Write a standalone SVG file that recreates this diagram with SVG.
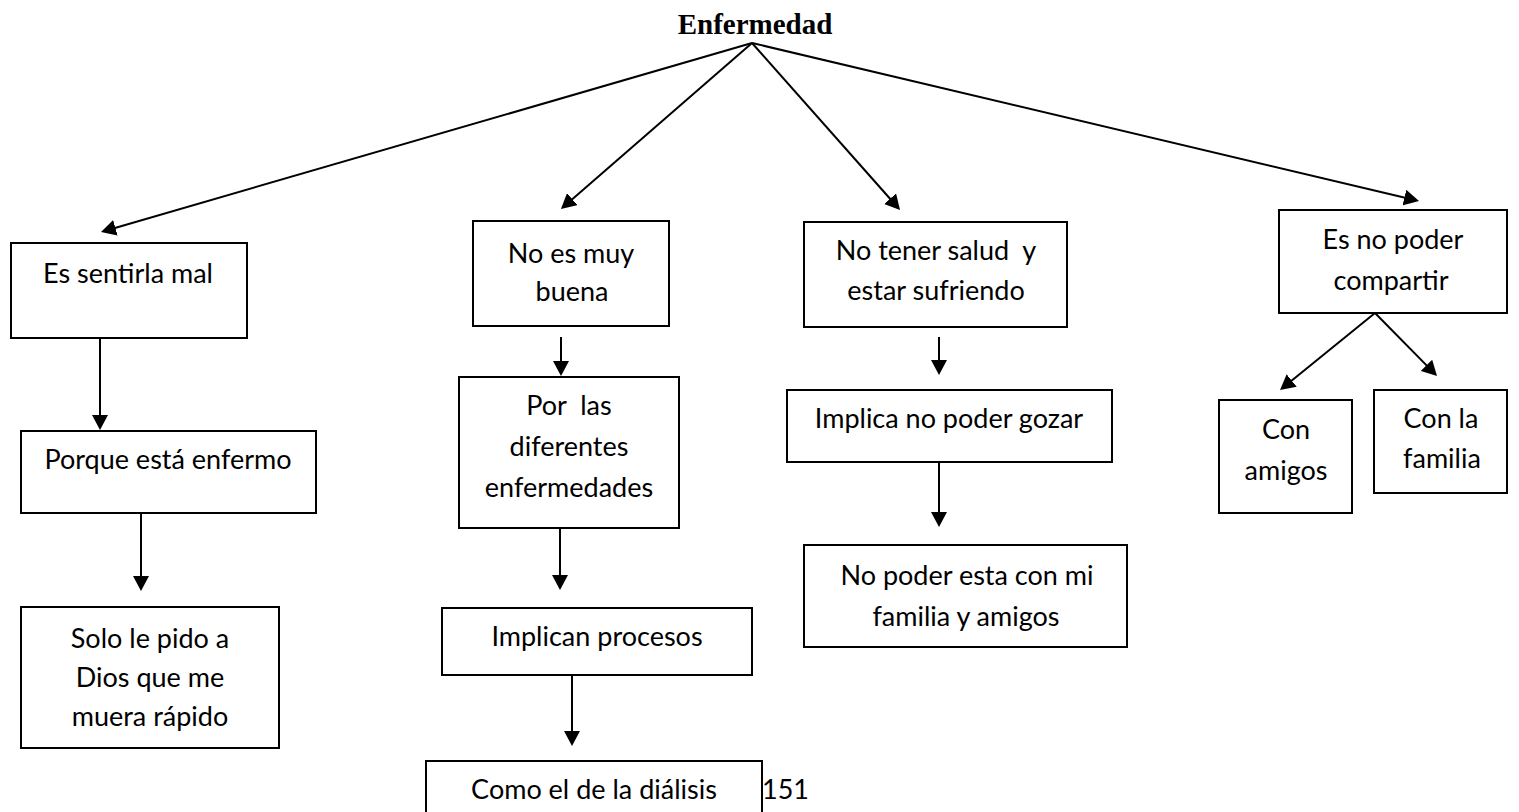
<svg xmlns="http://www.w3.org/2000/svg" width="1519" height="812" viewBox="0 0 1519 812">
<style>
.box{fill:#fff;stroke:#000;stroke-width:2}
.t{font-family:Lato,"Open Sans","Liberation Sans",sans-serif;font-size:27px;fill:#000;text-anchor:middle}
.title{font-family:"Liberation Serif","Times New Roman",serif;font-size:29px;font-weight:bold;fill:#000;text-anchor:middle}
.c line{stroke:#000;stroke-width:2;marker-end:url(#ah)}
</style>
<defs>
<marker id="ah" markerUnits="userSpaceOnUse" markerWidth="16" markerHeight="16" refX="5" refY="8" orient="auto">
<path d="M0,0 L15,8 L0,16 z" fill="#000"/>
</marker>
</defs>
<rect width="1519" height="812" fill="#fff"/>
<g id="title"><text class="title" x="755" y="34">Enfermedad</text></g>
<g class="c" id="connectors">
<line x1="752" y1="43" x2="110.6" y2="229.2"/>
<line x1="752" y1="43" x2="568.5" y2="202.4"/>
<line x1="752" y1="43" x2="893.4" y2="202.5"/>
<line x1="752" y1="43" x2="1409.3" y2="198.7"/>
<line x1="100" y1="338" x2="100" y2="420"/>
<line x1="141" y1="513" x2="141" y2="581"/>
<line x1="561" y1="337" x2="561" y2="366"/>
<line x1="560" y1="528" x2="560" y2="580"/>
<line x1="572" y1="675" x2="572" y2="736"/>
<line x1="939" y1="337" x2="939" y2="365"/>
<line x1="939" y1="462" x2="939" y2="517"/>
<line x1="1375" y1="313" x2="1287.8" y2="383.7"/>
<line x1="1375" y1="313" x2="1430" y2="368.9"/>
</g>
<g id="n1"><rect class="box" x="11" y="243" width="236" height="95"/><text class="t" x="128" y="283">Es sentirla mal</text></g>
<g id="n1a"><rect class="box" x="21" y="431" width="295" height="82"/><text class="t" x="168" y="469">Porque está enfermo</text></g>
<g id="n1b"><rect class="box" x="21" y="607" width="258" height="141"/><text class="t" x="150" y="648">Solo le pido a</text><text class="t" x="150" y="687">Dios que me</text><text class="t" x="150" y="726">muera rápido</text></g>
<g id="n2"><rect class="box" x="473" y="221" width="196" height="105"/><text class="t" x="571" y="263">No es muy</text><text class="t" x="572" y="301">buena</text></g>
<g id="n2a"><rect class="box" x="459" y="377" width="220" height="151"/><text class="t" x="569" y="415" xml:space="preserve">Por  las</text><text class="t" x="569" y="456">diferentes</text><text class="t" x="569" y="497">enfermedades</text></g>
<g id="n2b"><rect class="box" x="442" y="608" width="310" height="67"/><text class="t" x="597" y="646">Implican procesos</text></g>
<g id="n2c"><rect class="box" x="426" y="761" width="336" height="70"/><text class="t" x="594" y="799">Como el de la diálisis</text></g>
<g id="page"><text class="t" x="762" y="799" style="text-anchor:start">151</text></g>
<g id="n3"><rect class="box" x="804" y="222" width="263" height="105"/><text class="t" x="936" y="260" xml:space="preserve">No tener salud  y</text><text class="t" x="936" y="300">estar sufriendo</text></g>
<g id="n3a"><rect class="box" x="787" y="390" width="325" height="72"/><text class="t" x="949" y="428">Implica no poder gozar</text></g>
<g id="n3b"><rect class="box" x="804" y="545" width="323" height="102"/><text class="t" x="967" y="585">No poder esta con mi</text><text class="t" x="966" y="626">familia y amigos</text></g>
<g id="n4"><rect class="box" x="1279" y="210" width="228" height="103"/><text class="t" x="1393" y="249">Es no poder</text><text class="t" x="1391" y="290">compartir</text></g>
<g id="n4a"><rect class="box" x="1219" y="400" width="133" height="113"/><text class="t" x="1286" y="439">Con</text><text class="t" x="1286" y="480">amigos</text></g>
<g id="n4b"><rect class="box" x="1374" y="390" width="133" height="103"/><text class="t" x="1441" y="428">Con la</text><text class="t" x="1442" y="468">familia</text></g>
</svg>
